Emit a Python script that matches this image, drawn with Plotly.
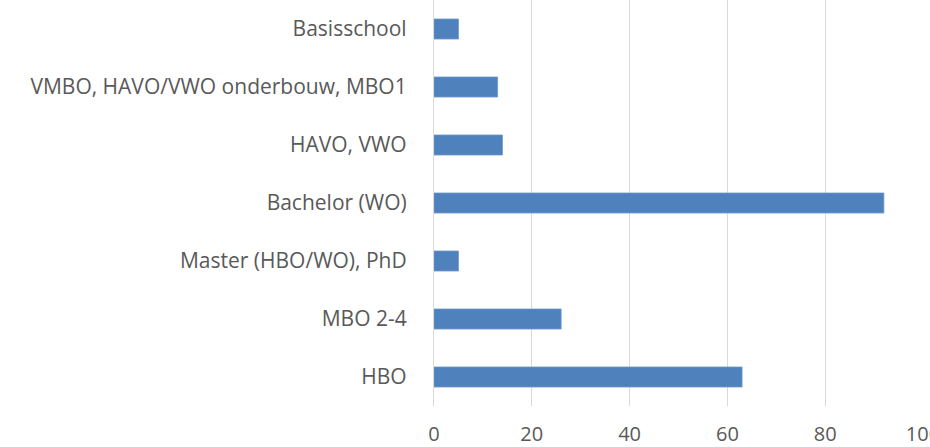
import plotly.graph_objects as go

categories = ["Basisschool", "VMBO, HAVO/VWO onderbouw, MBO1", "HAVO, VWO",
              "Bachelor (WO)", "Master (HBO/WO), PhD", "MBO 2-4", "HBO"]
values = [5, 13, 14, 92, 5, 26, 63]
x_ticks = [0, 20, 40, 60, 80, 100]

fig = go.Figure(go.Bar(
    y=categories, x=values, orientation="h",
    marker=dict(color="#4f81bd", line=dict(color="#6d98cc", width=0.8)),
))

fig.update_layout(
    width=930, height=447,
    margin=dict(l=434, r=7, t=0, b=41, autoexpand=False),
    paper_bgcolor="white", plot_bgcolor="white",
    bargap=0.655,
    showlegend=False,
    font=dict(family="Open Sans", color="#595959", size=21),
)
fig.update_xaxes(
    range=[0, 100], tickvals=x_ticks, showgrid=True, gridcolor="#d9d9d9",
    gridwidth=1.2, zeroline=False, showline=False, ticks="",
    tickfont=dict(size=20), ticklabelstandoff=14, ticklabeloverflow="allow",
    automargin=False,
)
fig.update_yaxes(
    range=[6.5, -0.5], showgrid=False, showline=True, linecolor="#d9d9d9",
    linewidth=1.2, ticks="", tickfont=dict(size=21), ticklabelstandoff=22,
    automargin=False,
)

fig.write_html(
    "out.html",
    config={"displayModeBar": False},
    post_script="document.body.style.margin='0';document.body.style.overflow='hidden';",
)
